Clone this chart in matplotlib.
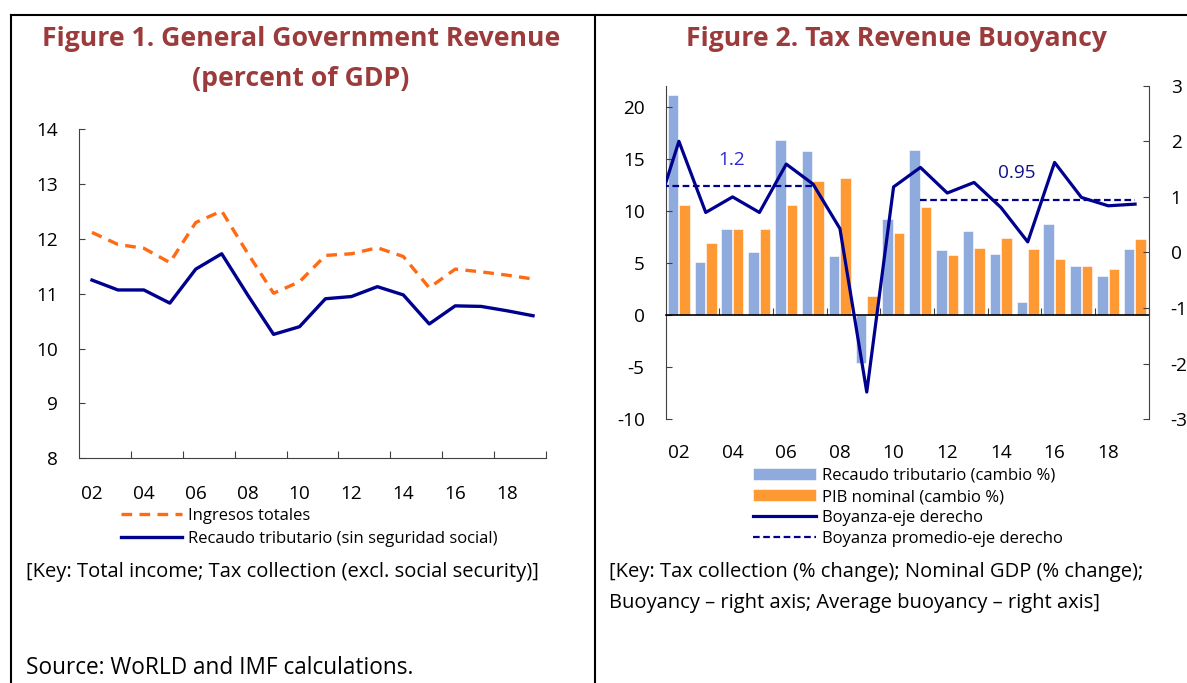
import numpy as np
import matplotlib.pyplot as plt
from matplotlib.lines import Line2D

plt.rcParams['font.family'] = ['Open Sans', 'DejaVu Sans']
plt.rcParams['axes.unicode_minus'] = False

# ---- data ----
years = list(range(2002, 2020))
year_labels = ['02', '04', '06', '08', '10', '12', '14', '16', '18']

# Figure 1 (percent of GDP)
ingresos_totales = [12.12, 11.90, 11.83, 11.57, 12.30, 12.51, 11.74, 11.01, 11.22,
                    11.70, 11.73, 11.84, 11.68, 11.11, 11.45, 11.40, 11.34, 11.27]
recaudo_tributario = [11.25, 11.07, 11.07, 10.83, 11.45, 11.73, 10.98, 10.26, 10.40,
                      10.91, 10.95, 11.13, 10.98, 10.45, 10.78, 10.77, 10.69, 10.60]

# Figure 2
recaudo_cambio = [21.1, 5.1, 8.3, 6.05, 16.8, 15.7, 5.7, -4.6, 9.25,
                  15.8, 6.2, 8.1, 5.9, 1.27, 8.75, 4.7, 3.7, 6.3]
pib_cambio = [10.6, 6.9, 8.3, 8.3, 10.6, 12.9, 13.15, 1.8, 7.85,
              10.4, 5.8, 6.45, 7.35, 6.35, 5.4, 4.75, 4.45, 7.3]
boyanza_years = list(range(2001, 2020))
boyanza = [0.48, 2.0, 0.72, 1.0, 0.72, 1.59, 1.23, 0.43, -2.51, 1.18,
           1.53, 1.07, 1.26, 0.81, 0.19, 1.62, 0.99, 0.84, 0.87]
prom_periodos = [(2001, 2007, 1.2), (2011, 2019, 0.95)]

title_color = '#9B3B3B'
navy = '#00008F'
spine_color = '#404040'
tick_fs = 13.7
key_fs = 14.5
leg_fs = 12
title_fs = 19.2

fig = plt.figure(figsize=(11.87, 6.83), dpi=100)

# frame lines
fig.add_artist(Line2D([11 / 1187, 1], [1 - 15 / 683] * 2, transform=fig.transFigure, color='black', lw=1.5))
fig.add_artist(Line2D([11 / 1187] * 2, [0, 1 - 15 / 683], transform=fig.transFigure, color='black', lw=1.5))
fig.add_artist(Line2D([595 / 1187] * 2, [0, 1 - 15 / 683], transform=fig.transFigure, color='black', lw=1.5))

idx = np.arange(len(years))

# ---------------- Figure 1 ----------------
ax1 = fig.add_axes([79 / 1187, 1 - 458.3 / 683, 467 / 1187, 329 / 683])
ax1.plot(idx, ingresos_totales, color='#FF6A13', lw=2.4, linestyle=(0, (3.2, 2.2)),
         label='Ingresos totales')
ax1.plot(idx, recaudo_tributario, color=navy, lw=2.4, label='Recaudo tributario (sin seguridad social)')
ax1.set_xlim(-0.5, len(years) - 0.5)
ax1.set_ylim(8, 14)
ax1.set_yticks(range(8, 15))
ax1.set_xticks(np.arange(1.5, len(years), 2))
ax1.set_xticklabels([])
ax1.set_xticks(idx[::2], minor=True)
ax1.set_xticklabels(year_labels, minor=True)
ax1.tick_params(axis='x', which='major', direction='in', length=5, color=spine_color)
ax1.tick_params(axis='x', which='minor', length=0, pad=19, labelsize=tick_fs)
ax1.tick_params(axis='y', direction='in', length=4.5, pad=15, labelsize=tick_fs, color=spine_color)
for s in ['top', 'right']:
    ax1.spines[s].set_visible(False)
for s in ['left', 'bottom']:
    ax1.spines[s].set_color(spine_color)

fig.text(301 / 1187, 1 - 39 / 683, 'Figure 1. General Government Revenue', ha='center', va='center',
         fontsize=title_fs, fontweight='bold', color=title_color)
fig.text(301 / 1187, 1 - 79 / 683, '(percent of GDP)', ha='center', va='center',
         fontsize=title_fs, fontweight='bold', color=title_color)

fig.legend(handles=ax1.get_lines(), loc='upper left', bbox_to_anchor=(121 / 1187, 1 - 508 / 683),
           frameon=False, fontsize=leg_fs, borderpad=0, borderaxespad=0, handlelength=3.66,
           handletextpad=0.36, labelspacing=0.42)

fig.text(26 / 1187, 1 - 572 / 683, '[Key: Total income; Tax collection (excl. social security)]',
         ha='left', va='center', fontsize=key_fs)
fig.text(26 / 1187, 1 - 668 / 683, 'Source: WoRLD and IMF calculations.',
         ha='left', va='center', fontsize=16.3)

# ---------------- Figure 2 ----------------
ax2 = fig.add_axes([665.5 / 1187, 1 - 419.3 / 683, 483 / 1187, 333.6 / 683])
b1 = ax2.bar(idx - 0.22, recaudo_cambio, width=0.39, color='#8FAADC', edgecolor='white', lw=0.4,
             label='Recaudo tributario (cambio %)')
b2 = ax2.bar(idx + 0.21, pib_cambio, width=0.39, color='#FF9933', edgecolor='white', lw=0.4,
             label='PIB nominal (cambio %)')
ax2.set_xlim(-0.5, len(years) - 0.5)
ax2.set_ylim(-10, 22)
ax2.set_yticks(range(-10, 21, 5))
ax2.spines['bottom'].set_position(('data', 0))
ax2.spines['bottom'].set_color('black')
ax2.spines['bottom'].set_linewidth(1.2)
ax2.spines['left'].set_color(spine_color)
ax2.spines['top'].set_visible(False)
ax2.spines['right'].set_visible(False)
ax2.set_xticks(np.arange(1.5, len(years), 2))
ax2.set_xticklabels([])
ax2.tick_params(axis='x', direction='in', length=5, color=spine_color)
ax2.tick_params(axis='y', direction='in', length=4.5, pad=15, labelsize=tick_fs, color=spine_color)

sec = ax2.secondary_xaxis(0.0)
sec.set_xticks(idx[::2])
sec.set_xticklabels(year_labels)
sec.tick_params(length=0, pad=18, labelsize=tick_fs)
sec.spines['bottom'].set_visible(False)

ax3 = ax2.twinx()
bidx = np.array(boyanza_years) - years[0]
l1, = ax3.plot(bidx, boyanza, color=navy, lw=2.3, label='Boyanza-eje derecho')
for k, (y0, y1, val) in enumerate(prom_periodos):
    xs = np.arange(y0, y1 + 1) - years[0]
    ln, = ax3.plot(xs, [val] * len(xs), color=navy, lw=1.6, linestyle=(0, (3, 1.6)),
                   label='Boyanza promedio-eje derecho')
    if k == 0:
        l2 = ln
ax3.text(1.95, 1.67, '1.2', color='#2A2AD0', fontsize=tick_fs, ha='center', va='center')
ax3.text(12.6, 1.43, '0.95', color='#101090', fontsize=tick_fs, ha='center', va='center')
ax3.set_xlim(-0.5, len(years) - 0.5)
ax3.set_ylim(-3, 3)
ax3.set_yticks(range(-3, 4))
for s in ['top', 'left', 'bottom']:
    ax3.spines[s].set_visible(False)
ax3.spines['right'].set_color(spine_color)
ax3.tick_params(axis='y', direction='in', length=4.5, pad=16, labelsize=tick_fs, color=spine_color)

fig.text(897 / 1187, 1 - 39 / 683, 'Figure 2. Tax Revenue Buoyancy', ha='center', va='center',
         fontsize=title_fs, fontweight='bold', color=title_color)

fig.legend(handles=[b1, b2, l1, l2], loc='upper left', bbox_to_anchor=(752.7 / 1187, 1 - 468 / 683),
           frameon=False, fontsize=leg_fs, borderpad=0, borderaxespad=0, handlelength=3.8,
           handletextpad=0.36, labelspacing=0.3)

fig.text(609 / 1187, 1 - 572 / 683, '[Key: Tax collection (% change); Nominal GDP (% change);',
         ha='left', va='center', fontsize=key_fs)
fig.text(609 / 1187, 1 - 603 / 683, 'Buoyancy \u2013 right axis; Average buoyancy \u2013 right axis]',
         ha='left', va='center', fontsize=key_fs)

fig.savefig('out.png', dpi=100)
